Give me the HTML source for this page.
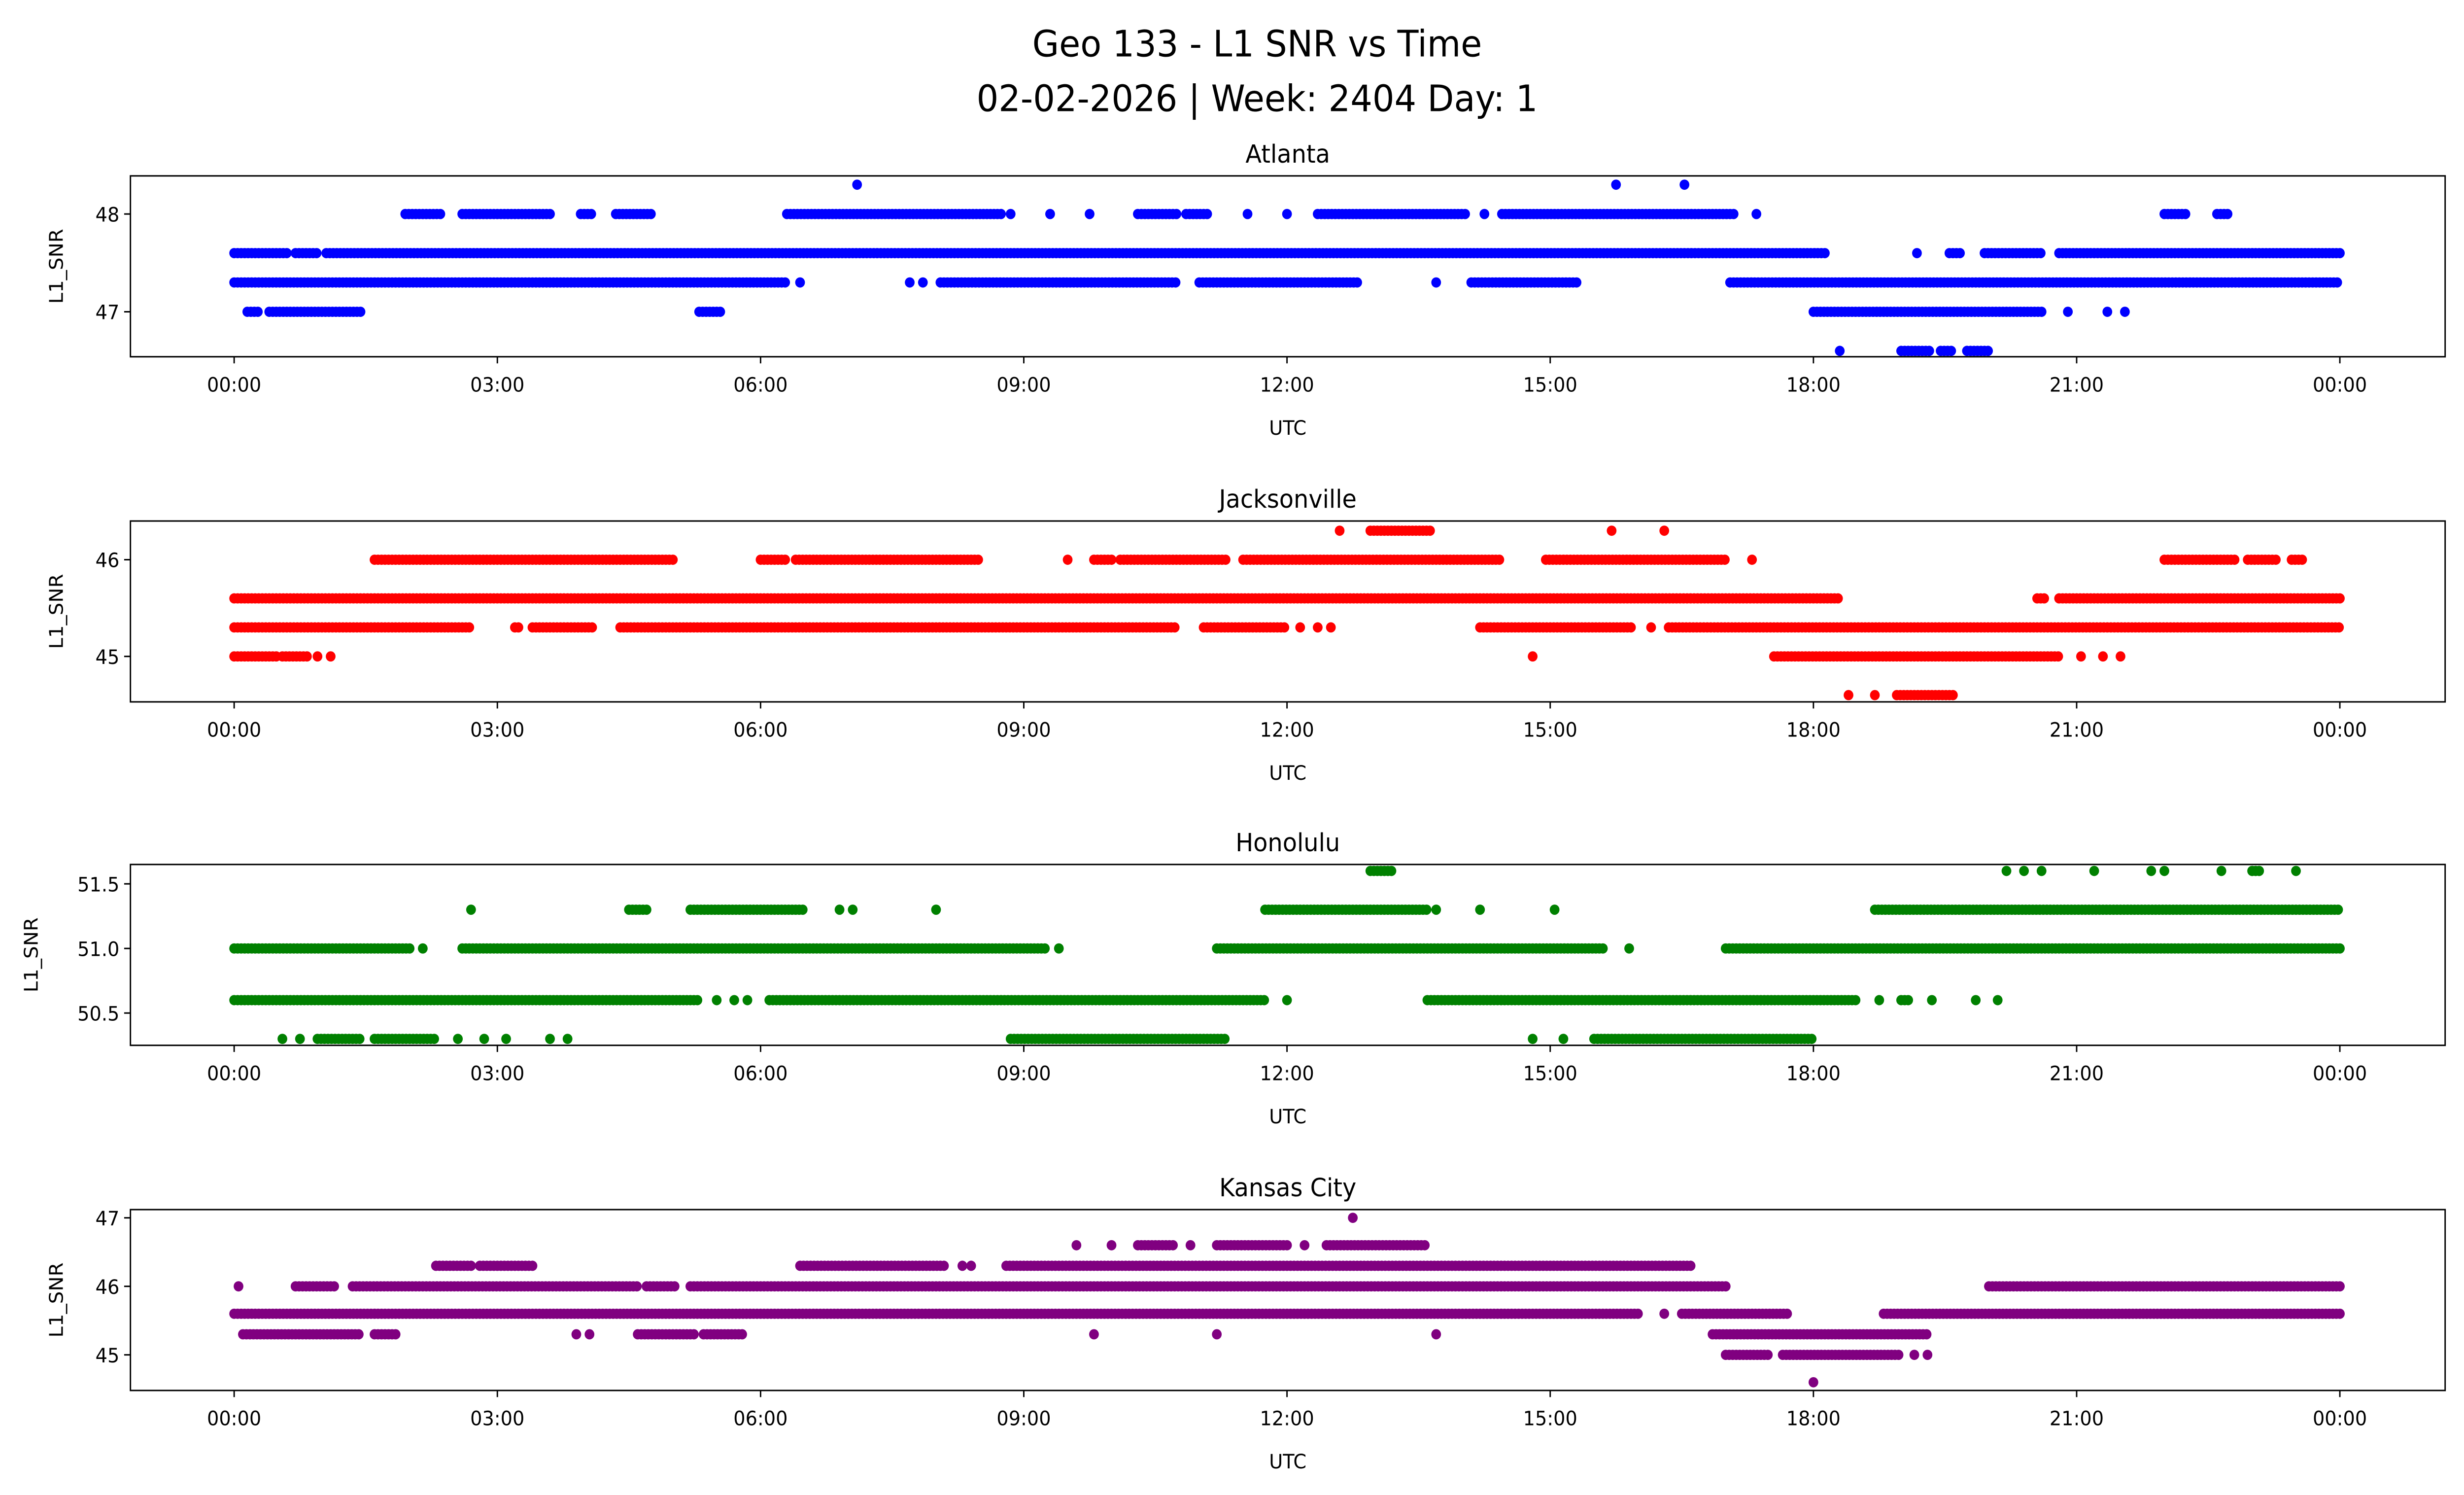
<!DOCTYPE html>
<html><head><meta charset="utf-8">
<style>
html,body{margin:0;padding:0;background:#fff;width:100%;height:100%;overflow:hidden;}
svg{display:block;position:absolute;left:0;top:0;width:100vw;height:100vh;}
text{font-family:"DejaVu Sans","Liberation Sans",sans-serif;fill:#000;}
</style></head>
<body>
<svg id="chart" viewBox="0 0 1568 901" preserveAspectRatio="none" xmlns="http://www.w3.org/2000/svg">
<rect width="1568" height="901" fill="#fff"/>
<text x="800" y="34" font-size="22" text-anchor="middle">Geo 133 - L1 SNR vs Time</text>
<text x="800" y="67" font-size="22" text-anchor="middle">02-02-2026 | Week: 2404 Day: 1</text>
</svg>
<script>
// x tick labels (hours)
const xTickHours = [0,3,6,9,12,15,18,21,24];
const xTickLabels = ["00:00","03:00","06:00","09:00","12:00","15:00","18:00","21:00","00:00"];
// station names
const stations = ["Atlanta","Jacksonville","Honolulu","Kansas City"];
const colors = ["#0000ff","#ff0000","#008000","#800080"];
// y ranges and ticks
const yLims = [[46.54,48.39],[44.53,46.4],[50.25,51.65],[44.48,47.12]];
const yTicks = [[47,48],[45,46],[50.5,51.0,51.5],[45,46,47]];
const yTickLabels = [["47","48"],["45","46"],["50.5","51.0","51.5"],["45","46","47"]];
// runs: [level, [[startHour,endHour],...]]  (single points as [h,h])
const atlantaRuns = [
 [48.3, [[7.1,7.1],[15.75,15.75],[16.53,16.53]]],
 [48.0, [[1.95,2.35],[2.6,3.6],[3.95,4.1],[4.35,4.75],[6.3,8.75],[8.85,8.85],[9.3,9.3],[9.75,9.75],[10.3,10.75],[10.85,11.1],[11.55,11.55],[12.0,12.0],[12.35,14.05],[14.25,14.25],[14.45,17.1],[17.35,17.35],[22.0,22.25],[22.6,22.75]]],
 [47.6, [[0,0.6],[0.7,0.95],[1.05,18.15],[19.18,19.18],[19.55,19.7],[19.95,20.6],[20.8,24]]],
 [47.3, [[0,6.3],[6.45,6.45],[7.7,7.7],[7.85,7.85],[8.05,10.75],[11.0,12.8],[13.7,13.7],[14.1,15.3],[17.05,24]]],
 [47.0, [[0.15,0.3],[0.4,1.45],[5.3,5.55],[18.0,20.6],[20.9,20.9],[21.35,21.35],[21.55,21.55]]],
 [46.6, [[18.3,18.3],[19.0,19.35],[19.45,19.6],[19.75,20.0]]]
];
const jacksonvilleRuns = [
 [46.3, [[12.6,12.6],[12.95,13.65],[15.7,15.7],[16.3,16.3]]],
 [46.0, [[1.6,5.0],[6.0,6.3],[6.4,8.5],[9.5,9.5],[9.8,10.0],[10.1,11.3],[11.5,14.45],[14.95,17.0],[17.3,17.3],[22.0,22.8],[22.95,23.3],[23.45,23.6]]],
 [45.6, [[0,18.3],[20.55,20.65],[20.8,24]]],
 [45.3, [[0,2.7],[3.2,3.25],[3.4,4.1],[4.4,10.75],[11.05,12.0],[12.15,12.15],[12.35,12.35],[12.5,12.5],[14.2,15.95],[16.15,16.15],[16.35,24]]],
 [45.0, [[0,0.5],[0.55,0.85],[0.95,0.95],[1.1,1.1],[14.8,14.8],[17.55,20.8],[21.05,21.05],[21.3,21.3],[21.5,21.5]]],
 [44.6, [[18.4,18.4],[18.7,18.7],[18.95,19.6]]]
];
const honoluluRuns = [
 [51.6, [[12.95,13.2],[20.2,20.2],[20.4,20.4],[20.6,20.6],[21.2,21.2],[21.85,21.85],[22.0,22.0],[22.65,22.65],[23.0,23.1],[23.5,23.5]]],
 [51.3, [[2.7,2.7],[4.5,4.7],[5.2,6.5],[6.9,6.9],[7.05,7.05],[8.0,8.0],[11.75,13.6],[13.7,13.7],[14.2,14.2],[15.05,15.05],[18.7,24]]],
 [51.0, [[0,2.0],[2.15,2.15],[2.6,9.25],[9.4,9.4],[11.2,15.6],[15.9,15.9],[17.0,24]]],
 [50.6, [[0,5.3],[5.5,5.5],[5.7,5.7],[5.85,5.85],[6.1,11.75],[12.0,12.0],[13.6,18.5],[18.75,18.75],[19.0,19.1],[19.35,19.35],[19.85,19.85],[20.1,20.1]]],
 [50.3, [[0.55,0.55],[0.75,0.75],[0.95,1.45],[1.6,2.3],[2.55,2.55],[2.85,2.85],[3.1,3.1],[3.6,3.6],[3.8,3.8],[8.85,11.3],[14.8,14.8],[15.15,15.15],[15.5,18.0]]]
];
const kansasRuns = [
 [47.0, [[12.75,12.75]]],
 [46.6, [[9.6,9.6],[10.0,10.0],[10.3,10.7],[10.9,10.9],[11.2,12.0],[12.2,12.2],[12.45,13.6]]],
 [46.3, [[2.3,2.7],[2.8,3.4],[6.45,8.1],[8.3,8.3],[8.4,8.4],[8.8,16.6]]],
 [46.0, [[0.05,0.05],[0.7,1.15],[1.35,4.6],[4.7,5.05],[5.2,17.0],[20.0,24]]],
 [45.6, [[0,16.0],[16.3,16.3],[16.5,17.7],[18.8,24]]],
 [45.3, [[0.1,1.45],[1.6,1.85],[3.9,3.9],[4.05,4.05],[4.6,5.25],[5.35,5.8],[9.8,9.8],[11.2,11.2],[13.7,13.7],[16.85,19.3]]],
 [45.0, [[17.0,17.5],[17.65,19.0],[19.15,19.15],[19.3,19.3]]],
 [44.6, [[18.0,18.0]]]
];
const allRuns = [atlantaRuns, jacksonvilleRuns, honoluluRuns, kansasRuns];

const NS = "http://www.w3.org/2000/svg";
const svg = document.getElementById("chart");
const L = 83, R = 1556;
const tops = [106,314,521,729];
const H = 109;
function xs(h){ return 149 + h*(1489-149)/24; }
function mk(tag, attrs, parent){ const e=document.createElementNS(NS,tag); for(const k in attrs) e.setAttribute(k,attrs[k]); (parent||svg).appendChild(e); return e; }

for(let p=0;p<4;p++){
  const top=tops[p], bot=top+H, lim=yLims[p];
  const ys = v => bot - (v-lim[0])/(lim[1]-lim[0])*H;
  const g = mk("g",{});
  
  
  const pts = mk("g",{fill:colors[p]},g);
  
  
  for(const [lvl, runs] of allRuns[p]){
    const y = ys(lvl);
    for(const [a,b] of runs){
      let h=a;
      do {
        const c = mk("circle",{cx:xs(h).toFixed(2),cy:y.toFixed(2),r:3.1},pts);
        
        
        h += 0.04;
      } while(h <= b + 1e-9);
    }
  }
  const fr = mk("rect",{x:L,y:top,width:R-L,height:H,fill:"none",stroke:"#000","stroke-width":0.9},g);
  
  
  const t = mk("text",{x:(L+R)/2,y:top-8,"font-size":15,"text-anchor":"middle"},g);
  t.textContent = stations[p];
  
  
  xTickHours.forEach((h,i)=>{
    mk("line",{x1:xs(h),x2:xs(h),y1:bot,y2:bot+4,stroke:"#000","stroke-width":0.9},g);
    const tl = mk("text",{x:xs(h),y:bot+21,"font-size":12,"text-anchor":"middle"},g);
    tl.textContent = xTickLabels[i];
    
    
  });
  const xl = mk("text",{x:(L+R)/2,y:bot+47,"font-size":12,"text-anchor":"middle"},g);
  xl.textContent = "UTC";
  
  
  yTicks[p].forEach((v,i)=>{
    mk("line",{x1:L-4,x2:L,y1:ys(v),y2:ys(v),stroke:"#000","stroke-width":0.9},g);
    const yl = mk("text",{x:L-7,y:ys(v)+4.5,"font-size":12,"text-anchor":"end"},g);
    yl.textContent = yTickLabels[p][i];
    
    
  });
  const yx = p===2 ? 24 : 40;
  const yt = mk("text",{x:yx,y:top+H/2,"font-size":12,"text-anchor":"middle",transform:`rotate(-90 ${yx} ${top+H/2})`},g);
  yt.textContent = "L1_SNR";
  
  
}
</script>
</body></html>
